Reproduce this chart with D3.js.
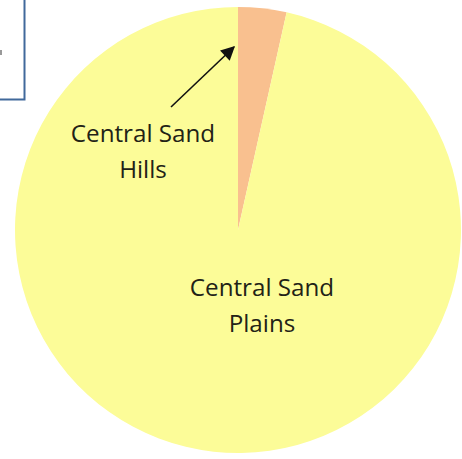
<!DOCTYPE html>
<html>
<head>
<meta charset="utf-8">
<script src="https://cdn.jsdelivr.net/npm/d3@7"></script>
<style>
  html, body { margin: 0; padding: 0; background: #fff; }
  svg { display: block; }
</style>
</head>
<body>
<svg id="chart" width="462" height="459"></svg>
<script>
// Share of area by region
const regions = ["Central Sand Hills", "Central Sand Plains"];
const shares = [3.5, 96.5];
const colors = ["#f9c08f", "#fcfc98"];

const svg = d3.select("#chart");
const cx = 238, cy = 230, r = 223;

const pie = d3.pie().sort(null).value(d => d.value);
const arcs = pie(regions.map((name, i) => ({ name, value: shares[i], color: colors[i] })));
const arc = d3.arc().innerRadius(0).outerRadius(r);

const g = svg.append("g").attr("transform", `translate(${cx},${cy})`);
g.selectAll("path.slice")
  .data(arcs)
  .join("path")
  .attr("class", "slice")
  .attr("d", arc)
  .attr("fill", d => d.data.color);

// Partially visible text box in the upper-left corner
svg.append("rect")
  .attr("x", -10).attr("y", -10)
  .attr("width", 34.5).attr("height", 109.5)
  .attr("fill", "#fff")
  .attr("stroke", "#41699b")
  .attr("stroke-width", 2);
svg.append("rect")
  .attr("x", 0).attr("y", 50).attr("width", 2).attr("height", 5)
  .attr("fill", "#999");

// Arrow pointing at the small slice
svg.append("defs").append("marker")
  .attr("id", "head")
  .attr("viewBox", "0 0 10 10")
  .attr("refX", 9).attr("refY", 5)
  .attr("markerWidth", 16).attr("markerHeight", 14)
  .attr("markerUnits", "userSpaceOnUse")
  .attr("orient", "auto")
  .append("path")
  .attr("d", "M0,0 L10,5 L0,10 Z")
  .attr("fill", "#111");

svg.append("line")
  .attr("x1", 171).attr("y1", 107)
  .attr("x2", 234).attr("y2", 47)
  .attr("stroke", "#111")
  .attr("stroke-width", 1.6)
  .attr("marker-end", "url(#head)");

// Region labels
const font = "'Open Sans', 'Noto Sans', sans-serif";
function label(lines, x, y) {
  const t = svg.append("text")
    .attr("text-anchor", "middle")
    .attr("font-family", font)
    .attr("font-size", 24.2)
    .attr("fill", "#222216");
  lines.forEach((s, i) => {
    t.append("tspan").attr("x", x).attr("y", y + i * 36).text(s);
  });
}
label(["Central Sand", "Hills"], 143, 142);
label(["Central Sand", "Plains"], 262, 296);
</script>
</body>
</html>
